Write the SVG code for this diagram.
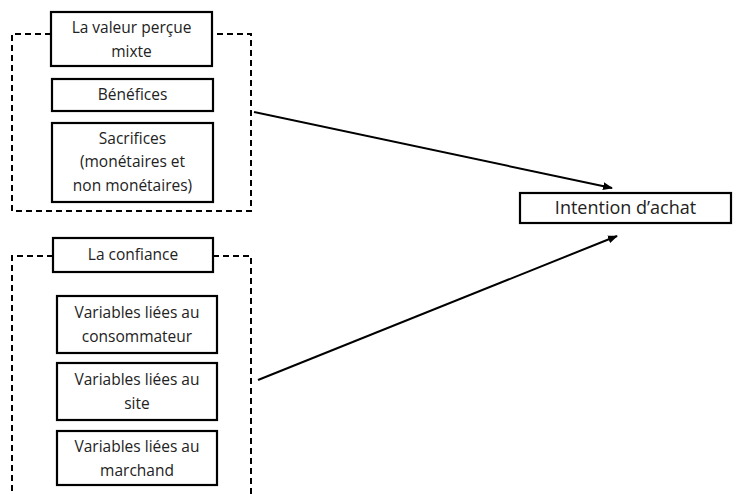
<svg xmlns="http://www.w3.org/2000/svg" width="742" height="494" viewBox="0 0 742 494">
<style>
.box{fill:#fff;stroke:#000;stroke-width:2.2}
.dash{fill:none;stroke:#000;stroke-width:2;stroke-dasharray:6,4}
text{font-family:"Open Sans","Liberation Sans",sans-serif;font-size:15.5px;fill:#222;text-anchor:middle}
.big{font-size:18px}
.arr{stroke:#000;stroke-width:2;fill:none;marker-end:url(#ah)}
</style>
<defs>
<marker id="ah" markerWidth="10" markerHeight="8" refX="9" refY="4" orient="auto" markerUnits="userSpaceOnUse">
<path d="M0,0 L10,4 L0,8 z" fill="#000"/>
</marker>
</defs>
<rect width="742" height="494" fill="#fff"/>
<g id="group1">
<path class="dash" d="M51,34 H12 V211 H251 V34 H212"/>
</g>
<g id="group2">
<path class="dash" d="M53,256 H12 V494 M251,494 V256 H213"/>
</g>
<g id="valeur">
<rect class="box" x="51" y="12" width="161" height="54"/>
<text x="131.5" y="33">La valeur perçue</text>
<text x="131.5" y="57">mixte</text>
</g>
<g id="benefices">
<rect class="box" x="52" y="79" width="161" height="32"/>
<text x="132.5" y="100">Bénéfices</text>
</g>
<g id="sacrifices">
<rect class="box" x="52" y="123" width="161" height="79"/>
<text x="132.5" y="144">Sacrifices</text>
<text x="132.5" y="167">(monétaires et</text>
<text x="132.5" y="191">non monétaires)</text>
</g>
<g id="confiance">
<rect class="box" x="53" y="238" width="160" height="34"/>
<text x="133" y="260">La confiance</text>
</g>
<g id="consommateur">
<rect class="box" x="57" y="296" width="160" height="57"/>
<text x="137" y="318">Variables liées au</text>
<text x="137" y="342">consommateur</text>
</g>
<g id="site">
<rect class="box" x="57" y="363" width="160" height="57"/>
<text x="137" y="385">Variables liées au</text>
<text x="137" y="409">site</text>
</g>
<g id="marchand">
<rect class="box" x="57" y="431" width="160" height="54"/>
<text x="137" y="452">Variables liées au</text>
<text x="137" y="476">marchand</text>
</g>
<g id="intention">
<rect class="box" x="520" y="193" width="211" height="30"/>
<text class="big" x="625.5" y="214">Intention d’achat</text>
</g>
<g id="connectors">
<line class="arr" x1="254" y1="112" x2="612" y2="188"/>
<line class="arr" x1="258" y1="380" x2="617" y2="236"/>
</g>
</svg>
